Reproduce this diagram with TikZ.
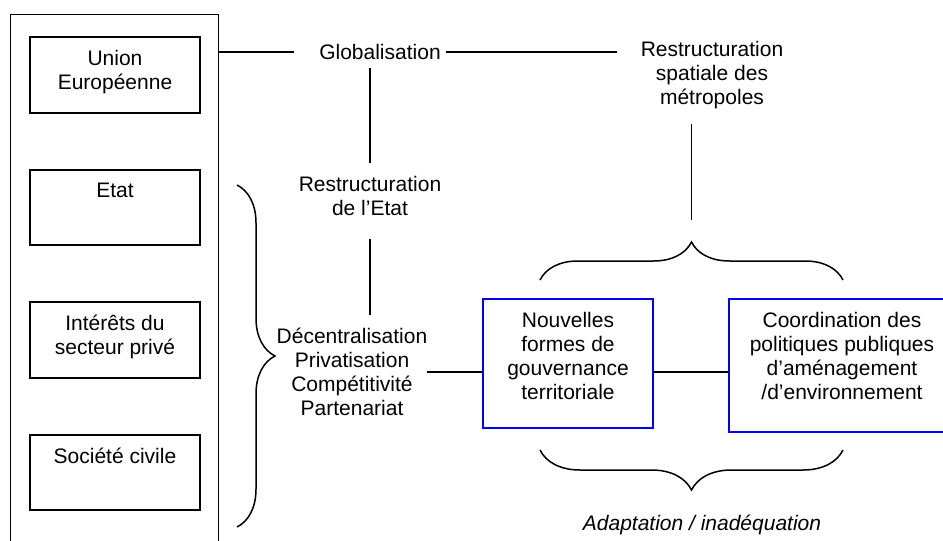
\documentclass[tikz,border=0pt]{standalone}
\usepackage{fontspec}
\setmainfont{Liberation Sans}
\usetikzlibrary{positioning}
\usetikzlibrary{decorations.pathreplacing}

\begin{document}
\begin{tikzpicture}[x=1pt,y=-1pt,
        every node/.style={font=\fontsize{21}{24}\selectfont, inner sep=0pt},
        cadre/.style={draw, line width=1.4pt, anchor=north west},
        boite/.style={draw, line width=1.4pt, minimum width=170},
        bleue/.style={draw=blue, line width=1.7pt},
        texte/.style={align=center},
        lien/.style={line width=1.8pt},
        accolade/.style={decorate, line width=1.5pt, decoration={brace, amplitude=#1}}]
        \useasboundingbox (0,0) rectangle (943,541);

        % Acteurs
        \node[cadre, minimum width=208, minimum height=560] (acteurs) at (10,14) {};
        \node[boite, minimum height=76] (ue) at (115,75) {};
        \node[texte, below=14pt of ue.north] (ue-t) {Union\\Européenne};
        \node[boite, minimum height=75] (etat) at (115,207.5) {};
        \node[texte, below=14pt of etat.north] (etat-t) {Etat};
        \node[boite, minimum height=76] (prive) at (115,340) {};
        \node[texte, below=14pt of prive.north] (prive-t) {Intérêts du\\secteur privé};
        \node[boite, minimum height=75] (civile) at (115,472.5) {};
        \node[texte, below=14pt of civile.north] (civile-t) {Société civile};

        % Text Node
        \node (glob) at (380,52) {Globalisation};
        \node[texte] (restspat) at (712,75) {Restructuration\\spatiale des\\métropoles};
        \node[texte] (restetat) at (370,196) {Restructuration\\de l’Etat};
        \node[texte] (decentr) at (352,372) {Décentralisation\\Privatisation\\Compétitivité\\Partenariat};

        % Blue boxes
        \node[bleue, minimum width=170, minimum height=129] (gouv) at (568,363.5) {};
        \node[texte, below=14pt of gouv.north] (gouv-t) {Nouvelles\\formes de\\gouvernance\\territoriale};
        \node[bleue, minimum width=226, minimum height=133] (coord) at (842,365.5) {};
        \node[texte, below=14pt of coord.north] (coord-t) {Coordination des\\politiques publiques\\d’aménagement\\/d’environnement};

        \node[font=\fontsize{21}{24}\selectfont\itshape] (adapt) at (702,525) {Adaptation / inadéquation};

        % Braces
        \coordinate (g1) at (237,185);
        \coordinate (g2) at (237,527);
        \draw[accolade=38pt] (g1) -- (g2);
        \coordinate (h1) at (540,280);
        \coordinate (h2) at (843,280);
        \coordinate (hpointe) at (691.5,242);
        \draw[accolade=38pt] (h1) -- (h2);
        \coordinate (b1) at (540,450);
        \coordinate (b2) at (843,450);
        \draw[accolade=40pt] (b2) -- (b1);

        % Straight Lines
        \draw[lien] (acteurs.east |- glob.west) -- ([xshift=-25pt]glob.west);
        \draw[lien] ([xshift=5pt]glob.east) -- ([xshift=-24pt]restspat.west |- glob.east);
        \draw[lien, shorten <=8pt, shorten >=13pt] (restetat.north |- glob.south) -- (restetat.north);
        \draw[lien, shorten <=23pt, shorten >=13pt] (restetat.south) -- (restetat.south |- decentr.north);
        \draw[lien] (decentr.east) -- (gouv.west |- decentr.east);
        \draw[lien] (gouv.east |- decentr.east) -- (coord.west |- decentr.east);
        \draw[lien, shorten <=15pt] (hpointe |- restspat.south) -- ([yshift=22pt]hpointe);
\end{tikzpicture}
\end{document}
